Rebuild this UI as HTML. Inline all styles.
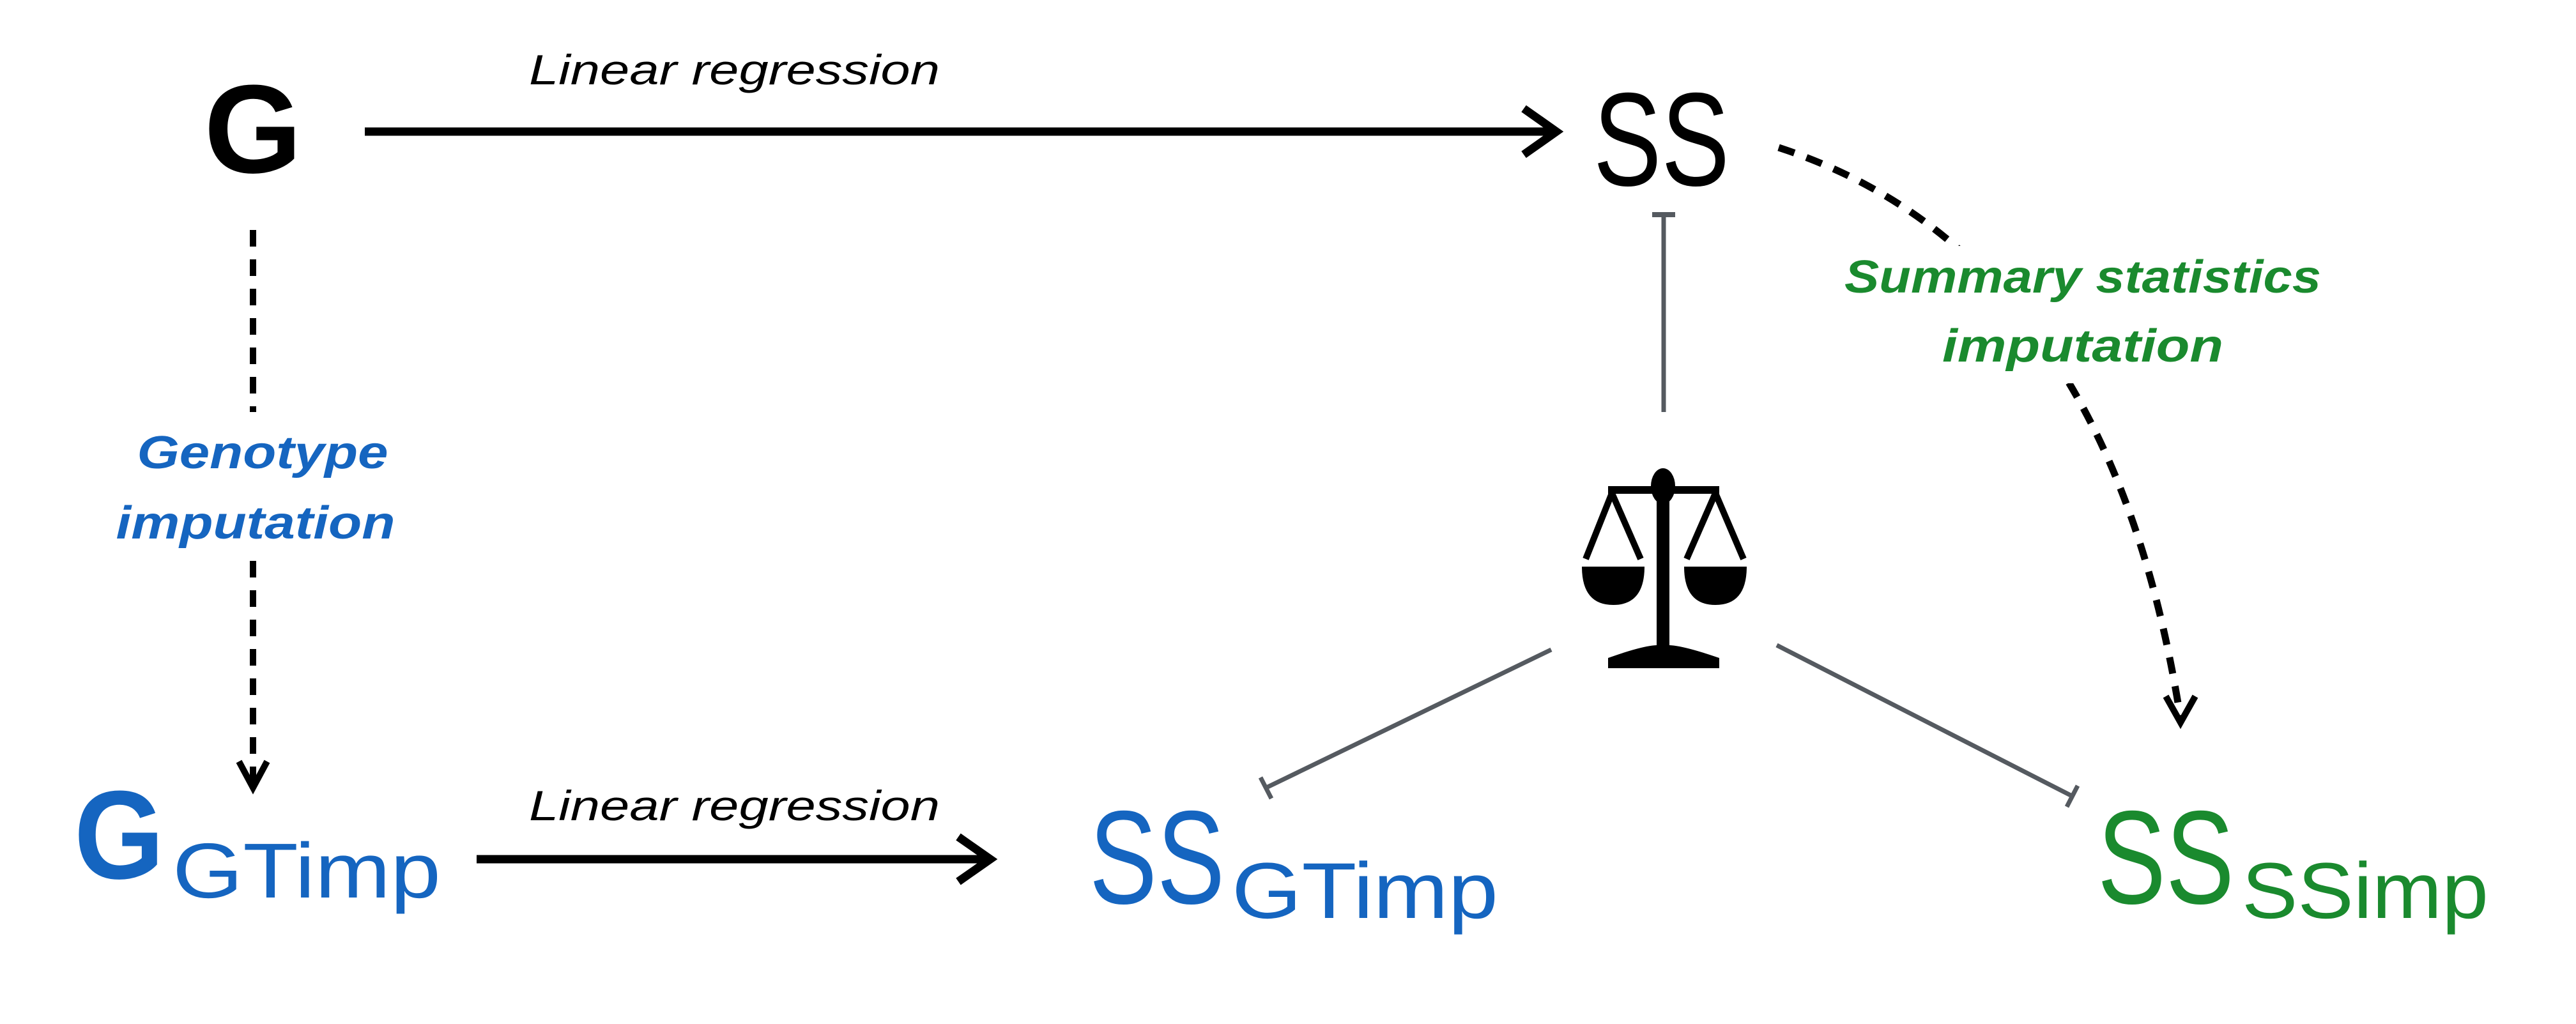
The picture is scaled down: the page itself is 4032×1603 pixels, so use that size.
<!DOCTYPE html>
<html><head><meta charset="utf-8"><style>
html,body{margin:0;padding:0;background:#fff;}
svg{display:block;}
</style></head><body>
<svg width="4032" height="1603" viewBox="0 0 4032 1603" xmlns="http://www.w3.org/2000/svg">
<rect width="4032" height="1603" fill="#fff"/>
<g font-family="Liberation Sans, sans-serif">
<!-- Top G -->
<text x="396" y="270" font-size="197" font-weight="bold" text-anchor="middle" fill="#000">G</text>
<!-- Top linear regression -->
<text x="828" y="132" font-size="66" font-style="italic" fill="#000" textLength="643" lengthAdjust="spacingAndGlyphs">Linear regression</text>
<line x1="571" y1="206" x2="2436" y2="206" stroke="#000" stroke-width="13"/>
<polyline points="2385,170 2436,206 2385,242" fill="none" stroke="#000" stroke-width="13"/>
<!-- SS top -->
<text x="2494" y="290" font-size="208" fill="#000" textLength="213" lengthAdjust="spacingAndGlyphs">SS</text>
<!-- dashed curve -->
<path d="M2784,231 Q3300,400 3413,1125" fill="none" stroke="#000" stroke-width="11" stroke-dasharray="26,20"/>
<polyline points="3390,1090 3413,1131 3436,1090" fill="none" stroke="#000" stroke-width="10"/>
<rect x="2880" y="385" width="760" height="215" fill="#fff"/>
<text x="3260" y="458" font-size="72" font-weight="bold" font-style="italic" fill="#1a8a2e" text-anchor="middle" textLength="746" lengthAdjust="spacingAndGlyphs">Summary statistics</text>
<text x="3260" y="566" font-size="72" font-weight="bold" font-style="italic" fill="#1a8a2e" text-anchor="middle" textLength="440" lengthAdjust="spacingAndGlyphs">imputation</text>
<!-- vertical gray -->
<line x1="2604" y1="334" x2="2604" y2="645" stroke="#555a60" stroke-width="7"/>
<line x1="2586" y1="336" x2="2622" y2="336" stroke="#555a60" stroke-width="8"/>
<!-- scales icon -->
<g fill="#000">
<ellipse cx="2603" cy="761" rx="19" ry="28"/>
<rect x="2517" y="761" width="174" height="12"/>
<rect x="2593" y="761" width="20" height="250"/>
<path d="M2517,1041 L2517,1030 Q2570,1011 2593,1010 L2613,1010 Q2636,1011 2691,1030 L2691,1046 L2517,1046 Z"/>
<path d="M2476,887 L2574,887 Q2574,947 2525,947 Q2476,947 2476,887 Z"/>
<path d="M2636,887 L2734,887 Q2734,947 2685,947 Q2636,947 2636,887 Z"/>
</g>
<g stroke="#000" stroke-width="10" fill="none">
<line x1="2523" y1="772" x2="2482" y2="875"/>
<line x1="2523" y1="772" x2="2568" y2="875"/>
<line x1="2685" y1="772" x2="2640" y2="875"/>
<line x1="2685" y1="772" x2="2729" y2="875"/>
</g>
<!-- diagonal gray lines -->
<line x1="2428" y1="1017" x2="1982" y2="1233" stroke="#555a60" stroke-width="7"/>
<line x1="1973" y1="1217" x2="1990" y2="1250" stroke="#555a60" stroke-width="7"/>
<line x1="2781" y1="1010" x2="3243" y2="1246" stroke="#555a60" stroke-width="7"/>
<line x1="3252" y1="1230" x2="3235" y2="1263" stroke="#555a60" stroke-width="7"/>
<!-- left dashed vertical -->
<line x1="396" y1="360" x2="396" y2="645" stroke="#000" stroke-width="10" stroke-dasharray="26,20"/>
<line x1="396" y1="878" x2="396" y2="1225" stroke="#000" stroke-width="10" stroke-dasharray="26,20"/>
<polyline points="374,1192 396,1233 418,1192" fill="none" stroke="#000" stroke-width="10"/>
<text x="411" y="733" font-size="72" font-weight="bold" font-style="italic" fill="#1565c0" text-anchor="middle" textLength="393" lengthAdjust="spacingAndGlyphs">Genotype</text>
<text x="400" y="843" font-size="72" font-weight="bold" font-style="italic" fill="#1565c0" text-anchor="middle" textLength="437" lengthAdjust="spacingAndGlyphs">imputation</text>
<!-- bottom G GTimp -->
<text x="116" y="1375" font-size="197" font-weight="bold" fill="#1565c0" textLength="141" lengthAdjust="spacingAndGlyphs">G</text>
<text x="270" y="1405" font-size="122" fill="#1565c0" textLength="420" lengthAdjust="spacingAndGlyphs">GTimp</text>
<!-- bottom arrow -->
<text x="828" y="1284" font-size="66" font-style="italic" fill="#000" textLength="643" lengthAdjust="spacingAndGlyphs">Linear regression</text>
<line x1="746" y1="1345" x2="1550" y2="1345" stroke="#000" stroke-width="13"/>
<polyline points="1500,1310 1550,1345 1500,1380" fill="none" stroke="#000" stroke-width="13"/>
<!-- SS GTimp -->
<text x="1705" y="1414" font-size="208" fill="#1565c0" textLength="212" lengthAdjust="spacingAndGlyphs">SS</text>
<text x="1928" y="1437" font-size="124" fill="#1565c0" textLength="417" lengthAdjust="spacingAndGlyphs">GTimp</text>
<!-- SS SSimp -->
<text x="3283" y="1414" font-size="208" fill="#1a8a2e" textLength="214" lengthAdjust="spacingAndGlyphs">SS</text>
<text x="3509" y="1437" font-size="124" fill="#1a8a2e" textLength="386" lengthAdjust="spacingAndGlyphs">SSimp</text>
</g>
</svg>
</body></html>
